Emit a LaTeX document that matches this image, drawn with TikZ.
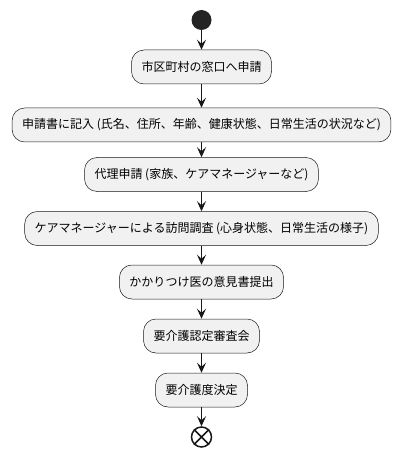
\documentclass[tikz,border=0pt]{standalone}
\usepackage{fontspec}
\newfontfamily\cjk{Noto Sans CJK JP}
\usetikzlibrary{arrows.meta}
\definecolor{boxfill}{HTML}{F1F1F1}
\definecolor{ink}{HTML}{181818}
\begin{document}
\begin{tikzpicture}[x=1pt,y=1pt,
  act/.style={draw=ink, line width=0.5pt, fill=boxfill, rounded corners=12.5pt,
    minimum height=34pt, inner xsep=10pt, font=\cjk\fontsize{12}{14}\selectfont, text=black},
  flow/.style={draw=ink, line width=1pt, -{Stealth[length=10pt,width=9pt,inset=4pt]}}]
\useasboundingbox (0,0) rectangle (402,-457);
\node[circle, fill=ink!95!white, minimum size=20pt, inner sep=0pt] (start) at (201.5,-20) {};
\node[act] (a1) at (201.5,-67) {市区町村の窓口へ申請};
\node[act] (a2) at (201.5,-125) {申請書に記入 (氏名、住所、年齢、健康状態、日常生活の状況など)};
\node[act] (a3) at (201.5,-174.5) {代理申請 (家族、ケアマネージャーなど)};
\node[act] (a4) at (201.5,-228.5) {ケアマネージャーによる訪問調査 (心身状態、日常生活の様子)};
\node[act] (a5) at (201.5,-282) {かかりつけ医の意見書提出};
\node[act] (a6) at (201.5,-336) {要介護認定審査会};
\node[act] (a7) at (201.5,-390) {要介護度決定};
\node[circle, draw=ink, line width=1.5pt, fill=white, minimum size=20pt, inner sep=0pt] (stop) at (201.5,-437) {};
\draw[ink, line width=1.5pt] (stop.north west) -- (stop.south east) (stop.north east) -- (stop.south west);
\draw[flow] (start) -- (a1);
\draw[flow] (a1) -- (a2);
\draw[flow] (a2) -- (a3);
\draw[flow] (a3) -- (a4);
\draw[flow] (a4) -- (a5);
\draw[flow] (a5) -- (a6);
\draw[flow] (a6) -- (a7);
\draw[flow] (a7) -- (stop);
\end{tikzpicture}
\end{document}
